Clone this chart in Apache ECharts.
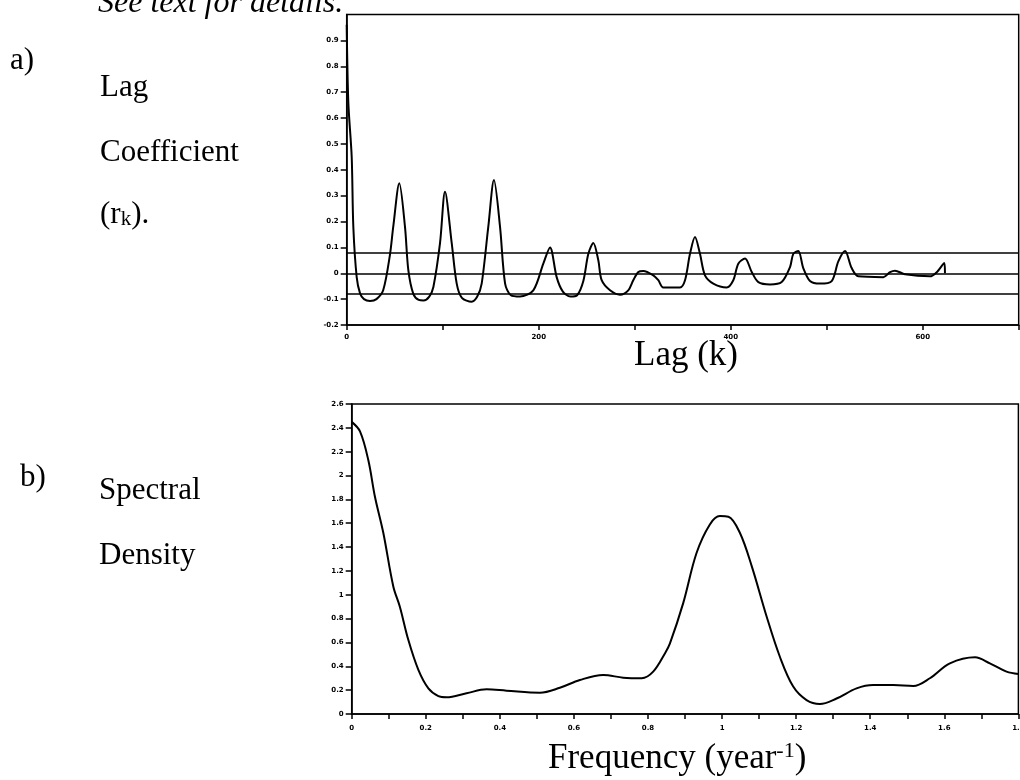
<!DOCTYPE html>
<html>
<head>
<meta charset="utf-8">
<script src="https://cdn.jsdelivr.net/npm/echarts@6/dist/echarts.min.js"></script>
<style>html,body{margin:0;padding:0;background:#fff;}#c{width:1020px;height:780px;}</style>
</head>
<body>
<div id="c"></div>
<script>
// a) lag coefficient (autocorrelation) : [lag, r_k]
const lagValues = [
 [0,0.96],[1.7,0.66],[5.2,0.45],[6.9,0.18],[10.4,-0.015],[13.9,-0.078],[18,-0.1],[24.3,-0.107],[31,-0.1],[38,-0.066],
 [45,0.07],[48.5,0.18],[54.8,0.348],[60.7,0.18],[64.2,0.012],[69.4,-0.08],[75,-0.103],[80,-0.105],[86,-0.09],[90.3,-0.053],
 [97.2,0.116],[102.4,0.315],[109.4,0.116],[114.6,-0.04],[120,-0.095],[130.2,-0.11],[136,-0.09],[140.6,-0.04],
 [147.5,0.18],[153.4,0.36],[159.7,0.18],[165,-0.04],[171,-0.085],[180.5,-0.09],[194.4,-0.066],[204.8,0.037],
 [211.8,0.1],[218.7,-0.015],[225,-0.07],[233,-0.09],[240,-0.085],[246.5,-0.03],[251.7,0.075],[256.9,0.117],
 [262.1,0.05],[265.6,-0.027],[274.3,-0.066],[284.7,-0.083],[293.3,-0.066],[298.5,-0.027],[303.8,0.005],[309,0.009],
 [319.4,-0.008],[324.6,-0.027],[329.8,-0.055],[347.2,-0.055],[352.4,-0.027],[357.6,0.075],[362.8,0.14],[368,0.075],
 [373.2,-0.008],[381.9,-0.04],[395.8,-0.055],[402.7,-0.027],[407.9,0.037],[414.9,0.057],[421.9,0.005],[428.8,-0.034],
 [441,-0.043],[453.1,-0.034],[461.8,0.024],[465.2,0.075],[470.4,0.086],[475.6,0.02],[482.6,-0.03],[493,-0.04],
 [505.2,-0.03],[512.1,0.046],[519.1,0.086],[526,0.02],[532.9,-0.012],[559,-0.015],[566,0.004],[571.1,0.01],
 [581.6,-0.004],[607.6,-0.012],[614.6,0.004],[622.5,0.04],[623.2,0.0]
];
// significance / zero reference lines
const refLines = [0.078, 0, -0.078];

// b) spectral density : [frequency, density]
const spectrum = [
 [0,2.45],[0.0224,2.37],[0.0448,2.13],[0.0629,1.82],[0.0853,1.52],[0.1123,1.07],[0.130,0.9],[0.153,0.62],[0.180,0.37],
 [0.207,0.215],[0.234,0.15],[0.256,0.14],[0.310,0.174],[0.364,0.207],[0.418,0.196],[0.508,0.179],[0.562,0.22],
 [0.616,0.285],[0.679,0.327],[0.733,0.305],[0.783,0.3],[0.814,0.355],[0.846,0.51],[0.859,0.59],[0.895,0.93],
 [0.931,1.35],[0.967,1.59],[0.994,1.66],[1.017,1.655],[1.048,1.52],[1.080,1.24],[1.120,0.82],[1.156,0.48],
 [1.192,0.23],[1.228,0.117],[1.264,0.084],[1.309,0.13],[1.363,0.215],[1.408,0.243],[1.462,0.243],[1.516,0.235],
 [1.561,0.3],[1.615,0.425],[1.683,0.476],[1.723,0.425],[1.768,0.355],[1.80,0.335]
];

const chart = echarts.init(document.getElementById('c'), null, {renderer:'canvas'});
const serif = '"Liberation Serif", "Times New Roman", serif';
const tickFont = {fontSize:7, fontWeight:'bold', color:'#000', fontFamily:'DejaVu Sans, Arial, sans-serif'};
function fmt(v){ return String(Math.round(v*10)/10); }
const F = '31px ' + serif;
const FB = '35px ' + serif;

chart.setOption({
  animation:false,
  backgroundColor:'#fff',
  grid:[
    {left:346.7, top:14.5, width:672, height:310.5, show:true, borderColor:'#000', borderWidth:1.5, backgroundColor:'transparent', outerBoundsMode:'none', containLabel:false},
    {left:351.7, top:404, width:666.7, height:310, show:true, borderColor:'#000', borderWidth:1.5, backgroundColor:'transparent', outerBoundsMode:'none', containLabel:false}
  ],
  xAxis:[
    {type:'value', gridIndex:0, min:0, max:700, interval:100,
     axisLine:{onZero:false, lineStyle:{color:'#000', width:1.5}},
     axisTick:{length:5, lineStyle:{color:'#000', width:1.5}},
     splitLine:{show:false},
     axisLabel:Object.assign({margin:9, formatter:function(v){return (Math.round(v)%200===0 && v<700)?String(Math.round(v)):'';}}, tickFont)},
    {type:'value', gridIndex:1, min:0, max:1.8, interval:0.1,
     axisLine:{onZero:false, lineStyle:{color:'#000', width:1.5}},
     axisTick:{length:5, lineStyle:{color:'#000', width:1.5}},
     splitLine:{show:false},
     axisLabel:Object.assign({margin:11, formatter:function(v){var n=Math.round(v*10); return n%2===0?fmt(v):'';}}, tickFont)}
  ],
  yAxis:[
    {type:'value', gridIndex:0, min:-0.2, max:1.0, interval:0.1,
     axisLine:{onZero:false, lineStyle:{color:'#000', width:1.5}},
     axisTick:{length:6, lineStyle:{color:'#000', width:1.5}},
     splitLine:{show:false},
     axisLabel:Object.assign({margin:8, showMaxLabel:false, formatter:fmt}, tickFont)},
    {type:'value', gridIndex:1, min:0, max:2.6, interval:0.2,
     axisLine:{onZero:false, lineStyle:{color:'#000', width:1.5}},
     axisTick:{length:6, lineStyle:{color:'#000', width:1.5}},
     splitLine:{show:false},
     axisLabel:Object.assign({margin:8, formatter:fmt}, tickFont)}
  ],
  series:[
    {type:'line', xAxisIndex:0, yAxisIndex:0, data:lagValues, showSymbol:false, smooth:0.3,
     lineStyle:{color:'#000', width:2}, silent:true,
     markLine:{silent:true, symbol:'none', label:{show:false},
       lineStyle:{color:'#000', width:1.5, type:'solid'},
       data:refLines.map(function(v){return {yAxis:v};})}},
    {type:'line', xAxisIndex:1, yAxisIndex:1, data:spectrum, showSymbol:false, smooth:0.35,
     lineStyle:{color:'#000', width:2}, silent:true}
  ],
  graphic:[
    {type:'text', left:98, top:-12, style:{text:'See text for details.', font:'italic 32px '+serif, fill:'#000'}},
    {type:'text', left:10, top:45, style:{text:'a)', font:F, fill:'#000'}},
    {type:'text', left:100, top:72, style:{text:'Lag', font:F, fill:'#000'}},
    {type:'text', left:100, top:137, style:{text:'Coefficient', font:F, fill:'#000'}},
    {type:'text', left:100, top:199, style:{text:'{a|(r}{b|k}{a|).}', rich:{a:{font:F, fill:'#000', verticalAlign:'bottom'}, b:{font:'21px '+serif, fill:'#000', padding:[9,0,0,0]}}}},
    {type:'text', left:634, top:338, style:{text:'Lag (k)', font:FB, fill:'#000'}},
    {type:'text', left:20, top:462, style:{text:'b)', font:F, fill:'#000'}},
    {type:'text', left:99, top:475, style:{text:'Spectral', font:F, fill:'#000'}},
    {type:'text', left:99, top:540, style:{text:'Density', font:F, fill:'#000'}},
    {type:'text', left:548, top:740, style:{text:'{a|Frequency (year}{s|-1}{a|)}', rich:{a:{font:FB, fill:'#000'}, s:{font:'22px '+serif, fill:'#000', padding:[0,0,15,0]}}}}
  ]
});
</script>
</body>
</html>
